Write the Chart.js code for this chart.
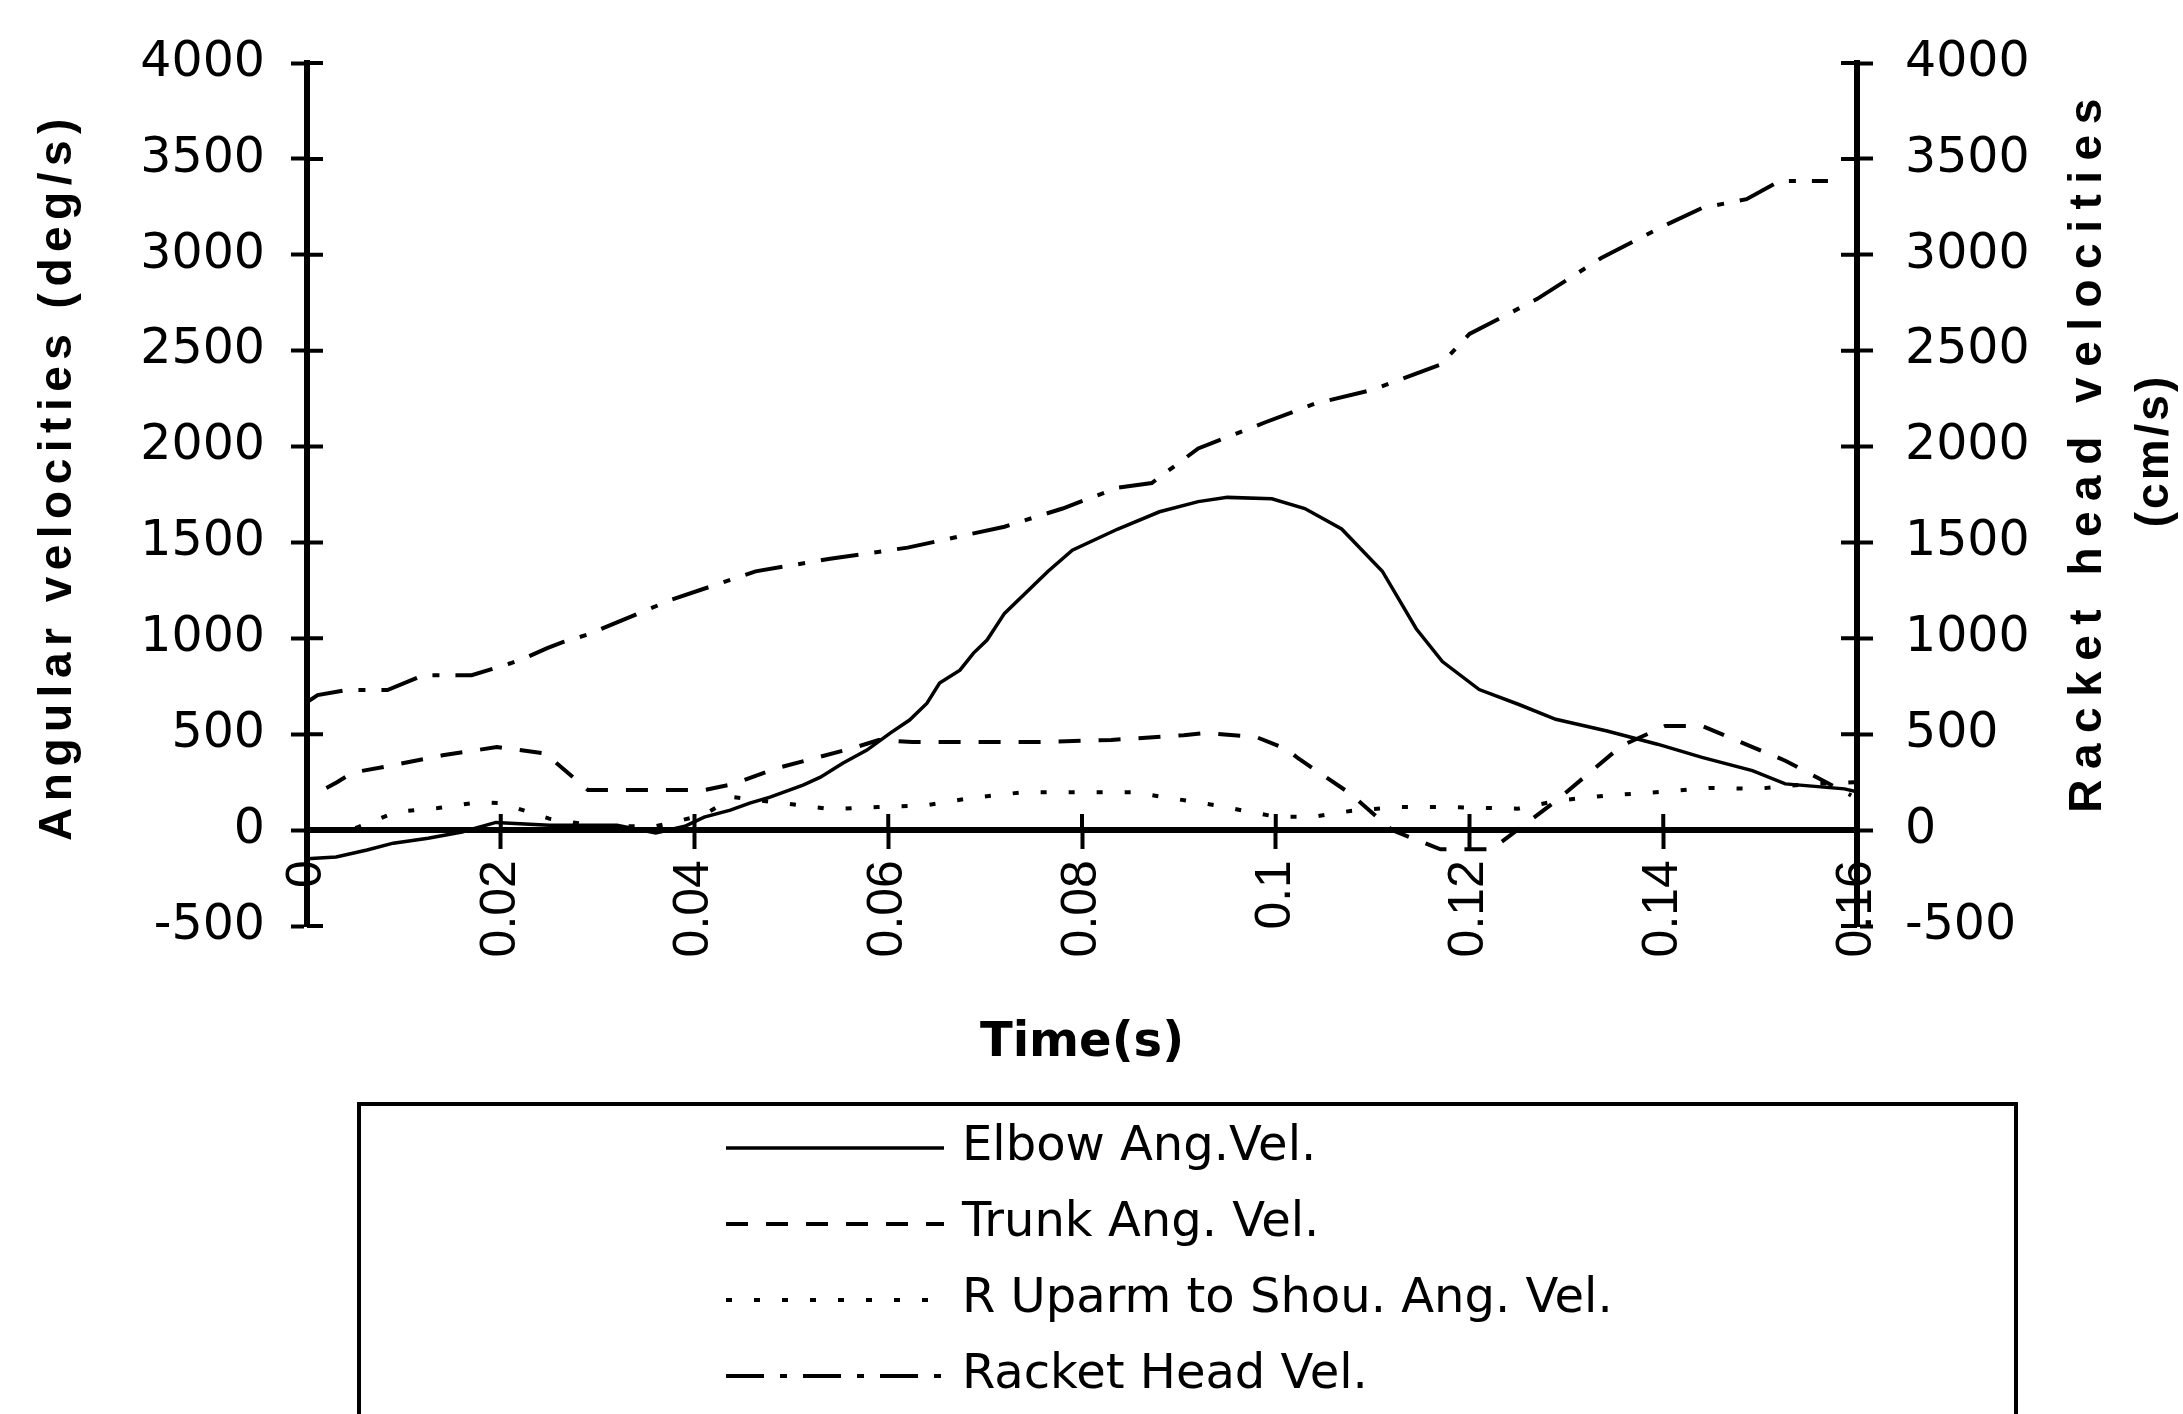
<!DOCTYPE html>
<html>
<head>
<meta charset="utf-8">
<title>Angular and racket head velocities</title>
<script src="https://cdn.jsdelivr.net/npm/chart.js@4"></script>
<style>
  html, body { margin: 0; padding: 0; background: #fff; }
  canvas { display: block; }
</style>
</head>
<body>
<canvas id="mainChart" width="2183" height="1414"></canvas>
<script>
// Data (time in s, velocities in deg/s or cm/s)
const seriesLabels = [
  "Elbow Ang.Vel.",
  "Trunk Ang. Vel.",
  "R Uparm to Shou. Ang. Vel.",
  "Racket Head Vel.",
];

const elbowTime = [0, 0.003, 0.0062, 0.0089, 0.0125, 0.016, 0.0195, 0.025, 0.032, 0.036, 0.039, 0.041,
  0.0437, 0.0457, 0.0478, 0.0512, 0.053, 0.0553, 0.0578, 0.0602, 0.0622, 0.064, 0.0653, 0.0674,
  0.0688, 0.0702, 0.072, 0.0765, 0.079, 0.0837, 0.088, 0.092, 0.095, 0.0996, 0.103, 0.1068, 0.111,
  0.1145, 0.1172, 0.121, 0.1251, 0.1289, 0.1342, 0.1394, 0.144, 0.1492, 0.1526, 0.1587, 0.16];
const elbowVel = [-150, -140, -104, -68, -42, -10, 40, 25, 25, -15, 20, 68,
  104, 141, 172, 235, 276, 349, 417, 506, 574, 662, 767, 834,
  923, 991, 1130, 1350, 1460, 1570, 1660, 1713, 1735, 1728, 1677, 1570, 1350,
  1050, 879, 733, 655, 578, 517, 448, 379, 310, 241, 215, 200];

const trunkTime = [0.002, 0.0031, 0.0047, 0.008, 0.014, 0.0196, 0.0246, 0.029, 0.035, 0.041, 0.044,
  0.0485, 0.0565, 0.059, 0.0625, 0.07, 0.0755, 0.083, 0.0905, 0.0927, 0.098, 0.1012, 0.1023,
  0.1077, 0.112, 0.117, 0.1223, 0.129, 0.1357, 0.1402, 0.144, 0.1526, 0.1594];
const trunkVel = [220, 250, 300, 330, 390, 433, 400, 209, 209, 209, 240,
  323, 430, 470, 459, 459, 459, 470, 495, 506, 485, 420, 375,
  190, 0, -100, -100, 155, 440, 543, 543, 362, 181];

const uparmTime = [0.005, 0.0092, 0.0135, 0.0178, 0.02, 0.025, 0.03, 0.036, 0.041, 0.044, 0.049,
  0.054, 0.059, 0.064, 0.0685, 0.074, 0.08, 0.0852, 0.09, 0.0937, 0.1, 0.104, 0.1077, 0.113,
  0.1172, 0.125, 0.1293, 0.1343, 0.14, 0.1448, 0.1496, 0.155, 0.16];
const uparmVel = [10, 95, 115, 146, 141, 60, 20, 20, 80, 172, 141,
  110, 120, 130, 167, 198, 198, 198, 160, 130, 70, 70, 100, 121,
  121, 112, 155, 181, 200, 220, 215, 240, 250];

const racketTime = [0, 0.0011, 0.0041, 0.0083, 0.012, 0.017, 0.0194, 0.021, 0.0227, 0.0248, 0.0264,
  0.029, 0.0377, 0.0463, 0.054, 0.062, 0.072, 0.078, 0.0837, 0.0872, 0.092, 0.099, 0.104, 0.11,
  0.117, 0.12, 0.127, 0.1336, 0.14, 0.144, 0.1486, 0.152, 0.157];
const racketVel = [667, 704, 730, 730, 808, 808, 845, 870, 902, 949, 980,
  1020, 1203, 1349, 1415, 1473, 1582, 1677, 1786, 1810, 1990, 2128, 2223, 2296,
  2427, 2587, 2770, 2983, 3149, 3244, 3290, 3385, 3385];

const timeTicks = [0, 0.02, 0.04, 0.06, 0.08, 0.1, 0.12, 0.14, 0.16];
const velTicks = [-500, 0, 500, 1000, 1500, 2000, 2500, 3000, 3500, 4000];

const leftTitle = "Angular velocities (deg/s)";
const rightTitle = ["Racket head velocities", "(cm/s)"];
const bottomTitle = "Time(s)";

const ARIAL = '"Liberation Sans", Arial, sans-serif';
const WIDE = '"DejaVu Sans", "Liberation Sans", sans-serif';

function toPoints(xs, ys) {
  return xs.map((x, i) => ({ x: x, y: ys[i] }));
}

// inner half of the cross ticks on all three axes
const crossTicks = {
  id: "crossTicks",
  afterDraw(chart) {
    const { ctx, scales } = chart;
    const len = 16;
    ctx.save();
    ctx.strokeStyle = "#000";
    ctx.lineWidth = 4;
    ctx.beginPath();
    const xl = scales.y.right;
    scales.y.ticks.forEach((t) => {
      const py = scales.y.getPixelForValue(t.value);
      ctx.moveTo(xl, py);
      ctx.lineTo(xl + len, py);
    });
    const xr = scales.y1.left;
    scales.y1.ticks.forEach((t) => {
      const py = scales.y1.getPixelForValue(t.value);
      ctx.moveTo(xr - len, py);
      ctx.lineTo(xr, py);
    });
    const y0 = scales.y.getPixelForValue(0);
    scales.x.ticks.forEach((t) => {
      const px = scales.x.getPixelForValue(t.value);
      ctx.moveTo(px, y0 - len);
      ctx.lineTo(px, y0);
    });
    ctx.stroke();
    ctx.restore();
  },
};

// spaced-out axis titles (right one reads bottom to top like the left one)
const axisTitles = {
  id: "axisTitles",
  afterDraw(chart) {
    const { ctx, chartArea } = chart;
    const midY = (chartArea.top + chartArea.bottom) / 2;
    ctx.save();
    ctx.fillStyle = "#000";
    ctx.textAlign = "center";
    ctx.textBaseline = "middle";
    ctx.font = "bold 46px " + ARIAL;

    ctx.save();
    ctx.translate(58, midY - 18);
    ctx.rotate(-Math.PI / 2);
    ctx.letterSpacing = "6.5px";
    ctx.fillText(leftTitle, 0, 0);
    ctx.restore();

    ctx.save();
    ctx.translate(chartArea.right + 231, midY - 44);
    ctx.rotate(-Math.PI / 2);
    ctx.letterSpacing = "10.5px";
    ctx.fillText(rightTitle[0], 0, 0);
    ctx.letterSpacing = "3px";
    ctx.fillText(rightTitle[1], 0, 67);
    ctx.restore();

    ctx.font = "bold 48px " + WIDE;
    ctx.fillText(bottomTitle, (chartArea.left + chartArea.right) / 2, chartArea.bottom + 118);
    ctx.restore();
  },
};

// boxed legend below the plot, one entry per row
const boxLegend = {
  id: "boxLegend",
  afterDraw(chart) {
    const { ctx, chartArea } = chart;
    const top = chartArea.bottom + 178;
    const left = 359, right = 2016;
    ctx.save();
    ctx.strokeStyle = "#000";
    ctx.lineWidth = 4;
    ctx.beginPath();
    ctx.moveTo(left, chart.height + 10);
    ctx.lineTo(left, top);
    ctx.lineTo(right, top);
    ctx.lineTo(right, chart.height + 10);
    ctx.stroke();

    ctx.font = "48px " + WIDE;
    ctx.fillStyle = "#000";
    ctx.textAlign = "left";
    ctx.textBaseline = "middle";
    chart.data.datasets.forEach((ds, i) => {
      const y = top + 44 + i * 76;
      ctx.save();
      ctx.lineWidth = ds.borderWidth;
      ctx.setLineDash(ds.borderDash || []);
      ctx.beginPath();
      ctx.moveTo(726, y);
      ctx.lineTo(944, y);
      ctx.stroke();
      ctx.restore();
      ctx.fillText(ds.label, 962, y);
    });
    ctx.restore();
  },
};

const xTickFont = { family: ARIAL, size: 50 };
const yTickFont = { family: WIDE, size: 49 };
const plainNumber = (v) => String(+Number(v).toFixed(2));

const chart = new Chart(document.getElementById("mainChart").getContext("2d"), {
  type: "line",
  data: {
    datasets: [
      {
        label: seriesLabels[0],
        data: toPoints(elbowTime, elbowVel),
        borderColor: "#000",
        borderWidth: 3.5,
        yAxisID: "y",
      },
      {
        label: seriesLabels[1],
        data: toPoints(trunkTime, trunkVel),
        borderColor: "#000",
        borderWidth: 4,
        borderDash: [22, 18],
        yAxisID: "y",
      },
      {
        label: seriesLabels[2],
        data: toPoints(uparmTime, uparmVel),
        borderColor: "#000",
        borderWidth: 4,
        borderDash: [6, 22],
        yAxisID: "y",
      },
      {
        label: seriesLabels[3],
        data: toPoints(racketTime, racketVel),
        borderColor: "#000",
        borderWidth: 4,
        borderDash: [38, 16, 7, 16],
        yAxisID: "y1",
      },
    ],
  },
  options: {
    responsive: false,
    animation: false,
    devicePixelRatio: 1,
    layout: { padding: { top: 63, bottom: 488, left: 0, right: 0 } },
    elements: {
      point: { radius: 0 },
      line: { tension: 0, fill: false },
    },
    plugins: {
      legend: { display: false },
      tooltip: { enabled: false },
    },
    scales: {
      x: {
        type: "linear",
        position: { y: 0 },
        min: timeTicks[0],
        max: timeTicks[timeTicks.length - 1],
        afterBuildTicks: (s) => {
          s.ticks = timeTicks.map((v) => ({ value: v }));
        },
        afterFit: (s) => {
          s.height = 0;
        },
        ticks: {
          autoSkip: false,
          minRotation: 90,
          maxRotation: 90,
          padding: 14,
          color: "#000",
          font: xTickFont,
          callback: plainNumber,
        },
        grid: {
          drawOnChartArea: false,
          drawTicks: true,
          tickLength: 16,
          tickWidth: 4,
          tickColor: "#000",
        },
        border: { display: true, color: "#000", width: 6 },
      },
      y: {
        type: "linear",
        position: "left",
        min: velTicks[0],
        max: velTicks[velTicks.length - 1],
        afterBuildTicks: (s) => {
          s.ticks = velTicks.map((v) => ({ value: v }));
        },
        afterFit: (s) => {
          s.width = 307;
        },
        ticks: { padding: 26, color: "#000", font: yTickFont, callback: plainNumber },
        grid: {
          drawOnChartArea: false,
          tickLength: 16,
          tickWidth: 4,
          tickColor: "#000",
        },
        border: { display: true, color: "#000", width: 6 },
      },
      y1: {
        type: "linear",
        position: "right",
        min: velTicks[0],
        max: velTicks[velTicks.length - 1],
        afterBuildTicks: (s) => {
          s.ticks = velTicks.map((v) => ({ value: v }));
        },
        afterFit: (s) => {
          s.width = 326;
        },
        ticks: { padding: 32, color: "#000", font: yTickFont, callback: plainNumber },
        grid: {
          drawOnChartArea: false,
          tickLength: 16,
          tickWidth: 4,
          tickColor: "#000",
        },
        border: { display: true, color: "#000", width: 6 },
      },
    },
  },
  plugins: [crossTicks, axisTitles, boxLegend],
});
</script>
</body>
</html>
